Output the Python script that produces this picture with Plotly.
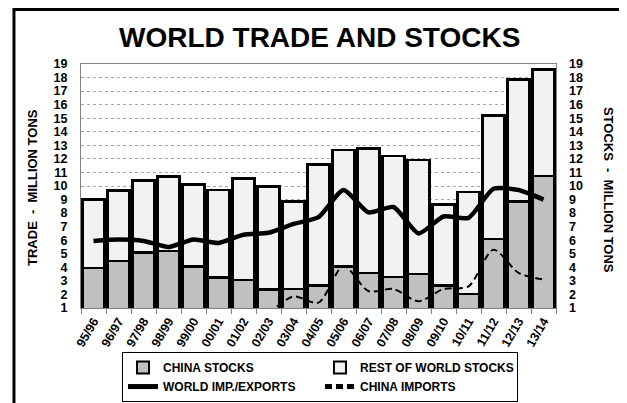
import plotly.graph_objects as go

seasons = ["95/96", "96/97", "97/98", "98/99", "99/00", "00/01", "01/02", "02/03", "03/04", "04/05",
           "05/06", "06/07", "07/08", "08/09", "09/10", "10/11", "11/12", "12/13", "13/14"]
china_stocks = [3.95, 4.45, 5.1, 5.2, 4.05, 3.25, 3.05, 2.35, 2.4, 2.65,
                4.05, 3.6, 3.3, 3.5, 2.65, 2.05, 6.1, 8.85, 10.75]
rest_of_world_stocks = [5.05, 5.2, 5.3, 5.5, 6.05, 6.45, 7.5, 7.6, 6.45, 8.95,
                        8.6, 9.15, 8.9, 8.4, 6.0, 7.5, 9.1, 9.0, 7.85]
world_trade = [5.95, 6.05, 5.95, 5.5, 6.05, 5.8, 6.4, 6.55, 7.2, 7.7,
               9.7, 8.05, 8.45, 6.5, 7.75, 7.65, 9.8, 9.7, 9.0]
china_imports = [0.8, 0.5, 0.35, 0.1, 0.05, 0.05, 0.15, 0.7, 1.85, 1.4,
                 4.1, 2.25, 2.4, 1.5, 2.4, 2.6, 5.3, 3.6, 3.1]
tick_vals = list(range(1, 20))

FONT = "Liberation Sans, Arial, sans-serif"

fig = go.Figure()
fig.add_trace(go.Bar(x=seasons, y=china_stocks, name="CHINA STOCKS",
                     marker=dict(color="#c0c0c0", line=dict(color="black", width=2.5))))
fig.add_trace(go.Bar(x=seasons, y=rest_of_world_stocks, name="REST OF WORLD STOCKS",
                     marker=dict(color="#f2f2f2", line=dict(color="black", width=2.5))))
fig.add_trace(go.Scatter(x=seasons, y=world_trade, name="WORLD IMP./EXPORTS", mode="lines",
                         line=dict(color="black", width=4.5, shape="spline", smoothing=0.6)))
fig.add_trace(go.Scatter(x=seasons, y=china_imports, name="CHINA IMPORTS", mode="lines",
                         line=dict(color="black", width=2, dash="7px,4px", shape="spline", smoothing=0.8)))
fig.add_trace(go.Scatter(x=[seasons[0]], y=[None], yaxis="y2", showlegend=False,
                         hoverinfo="skip", mode="lines"))

axis_font = dict(family=FONT, size=12.5, color="black", weight="bold")

fig.update_layout(
    width=627, height=403,
    margin=dict(l=73, r=79, t=56, b=103, autoexpand=False),
    paper_bgcolor="white", plot_bgcolor="white",
    barmode="stack", bargap=0.13,
    showlegend=True,
    font=dict(family=FONT, color="black"),
    xaxis=dict(type="category", tickangle=-60, tickfont=dict(family=FONT, size=12.5, color="black", weight="bold"),
               showline=True, mirror=True, linecolor="#808080", linewidth=1,
               ticks="outside", ticklen=5, tickcolor="#808080", tickson="boundaries",
               showgrid=False, automargin=False),
    yaxis=dict(range=[1, 19], tickvals=tick_vals, tickfont=axis_font,
               showgrid=True, gridcolor="#a6a6a6", griddash="dot", gridwidth=1,
               showline=True, mirror=True, linecolor="#808080", linewidth=1,
               ticks="", ticklabelstandoff=10, zeroline=False, automargin=False),
    yaxis2=dict(range=[1, 19], tickvals=tick_vals, tickfont=axis_font, overlaying="y", side="right",
                showgrid=False, showline=False, ticks="", ticklabelstandoff=12, zeroline=False,
                automargin=False),
    legend=dict(orientation="h", x=0.0863, y=-0.283, xanchor="left", yanchor="middle",
                bordercolor="black", borderwidth=1, bgcolor="rgba(255,255,255,0)",
                traceorder="normal", entrywidth=152, entrywidthmode="pixels",
                font=dict(family=FONT, size=12, color="black", weight="bold"),
                itemsizing="constant", tracegroupgap=0),
    shapes=[dict(type="rect", xref="paper", yref="paper", x0=-0.1411, x1=1.1442, y0=-0.46, y1=1.2234,
                 line=dict(color="black", width=3), fillcolor="rgba(0,0,0,0)", layer="above")],
    annotations=[
        dict(text="WORLD TRADE AND STOCKS", xref="paper", yref="paper", x=0.503, y=1.1066,
             xanchor="center", yanchor="middle", showarrow=False,
             font=dict(family=FONT, size=28, color="black", weight="bold")),
        dict(text="TRADE  -  MILLION TONS", xref="paper", yref="paper", x=-0.101, y=0.492,
             xanchor="center", yanchor="middle", showarrow=False, textangle=-90,
             font=dict(family=FONT, size=13, color="black", weight="bold")),
        dict(text="STOCKS  -  MILLION TONS", xref="paper", yref="paper", x=1.1095, y=0.484,
             xanchor="center", yanchor="middle", showarrow=False, textangle=90,
             font=dict(family=FONT, size=13, color="black", weight="bold")),
    ],
)

fig.write_html("out.html")
